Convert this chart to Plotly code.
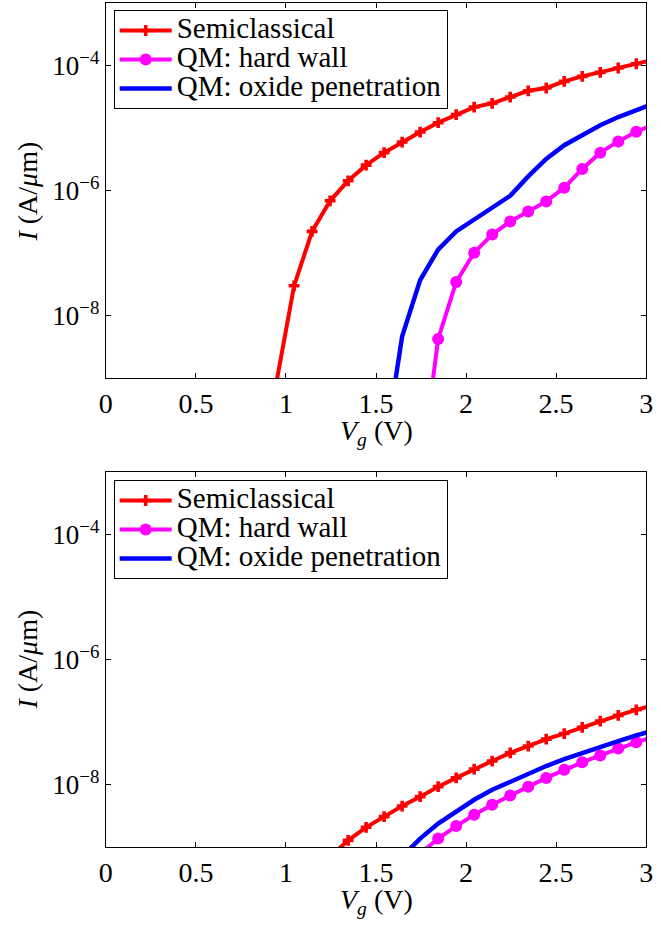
import plotly.graph_objects as go

# ---------------- data (log10 of current in A/um) ----------------
vg_semi_top = [0.945, 1.045, 1.145, 1.245, 1.345, 1.445, 1.545, 1.645, 1.745, 1.845, 1.945,
               2.045, 2.145, 2.245, 2.345, 2.445, 2.545, 2.645, 2.745, 2.845, 2.945, 3.045]
log_i_semi_top = [-9.10, -7.52, -6.65, -6.16, -5.84, -5.59, -5.39, -5.22, -5.06, -4.91, -4.78,
                  -4.66, -4.60, -4.50, -4.40, -4.355, -4.25, -4.17, -4.105, -4.035, -3.967, -3.90]

vg_hw_top = [1.745, 1.845, 1.945, 2.045, 2.145, 2.245, 2.345, 2.445, 2.545, 2.645, 2.745,
             2.845, 2.945, 3.045]
log_i_hw_top = [-10.6, -8.37, -7.46, -6.99, -6.70, -6.49, -6.33, -6.17, -5.95, -5.65, -5.39,
                -5.21, -5.055, -4.93]

vg_ox_top = [1.545, 1.645, 1.745, 1.845, 1.945, 2.045, 2.145, 2.245, 2.345, 2.445, 2.545,
             2.645, 2.745, 2.845, 2.945, 3.045]
log_i_ox_top = [-10.2, -8.33, -7.43, -6.94, -6.65, -6.46, -6.28, -6.08, -5.77, -5.49, -5.27,
                -5.10, -4.95, -4.82, -4.71, -4.60]

vg_semi_bot = [1.245, 1.345, 1.445, 1.545, 1.645, 1.745, 1.845, 1.945, 2.045, 2.145, 2.245,
               2.345, 2.445, 2.545, 2.645, 2.745, 2.845, 2.945, 3.045]
log_i_semi_bot = [-9.15, -8.89, -8.68, -8.51, -8.34, -8.19, -8.03, -7.89, -7.75, -7.62, -7.49,
                  -7.38, -7.27, -7.18, -7.08, -6.98, -6.89, -6.80, -6.72]

vg_hw_bot = [1.745, 1.845, 1.945, 2.045, 2.145, 2.245, 2.345, 2.445, 2.545, 2.645, 2.745,
             2.845, 2.945, 3.045]
log_i_hw_bot = [-9.10, -8.86, -8.66, -8.48, -8.32, -8.17, -8.03, -7.89, -7.76, -7.64, -7.53,
                -7.42, -7.32, -7.23]

vg_ox_bot = [1.645, 1.745, 1.845, 1.945, 2.045, 2.145, 2.245, 2.345, 2.445, 2.545, 2.645,
             2.745, 2.845, 2.945, 3.045]
log_i_ox_bot = [-9.15, -8.86, -8.62, -8.42, -8.24, -8.08, -7.95, -7.82, -7.70, -7.59, -7.49,
                -7.39, -7.30, -7.21, -7.13]

names = ["Semiclassical", "QM: hard wall", "QM: oxide penetration"]
x_ticks = [0, 0.5, 1, 1.5, 2, 2.5, 3]
x_tick_text = ["0", "0.5", "1", "1.5", "2", "2.5", "3"]
y_ticks = [1e-8, 1e-6, 1e-4]
y_tick_text = ["10<sup>\u22128</sup>", "10<sup>\u22126</sup>", "10<sup>\u22124</sup>"]

FONT = "Liberation Serif, Times New Roman, serif"
W, H = 661, 925

def to_i(vals):
    return [10 ** v for v in vals]

def leg_name(s):
    # legend text drawn larger than the compact row spacing of the legend
    return '<span style="font-size:29px">' + s + '</span>'

fig = go.Figure()

panels = [
    ("x", "y", "legend", vg_semi_top, log_i_semi_top, vg_hw_top, log_i_hw_top, vg_ox_top, log_i_ox_top),
    ("x2", "y2", "legend2", vg_semi_bot, log_i_semi_bot, vg_hw_bot, log_i_hw_bot, vg_ox_bot, log_i_ox_bot),
]
for xa, ya, lg, xs, ys, xh, yh, xo, yo in panels:
    fig.add_trace(go.Scatter(x=xs, y=to_i(ys), name=leg_name(names[0]), xaxis=xa, yaxis=ya, legend=lg,
                             mode="lines+markers",
                             line=dict(color="#ff0000", width=4),
                             marker=dict(symbol="cross", size=9, color="#ff0000")))
    fig.add_trace(go.Scatter(x=xh, y=to_i(yh), name=leg_name(names[1]), xaxis=xa, yaxis=ya, legend=lg,
                             mode="lines+markers",
                             line=dict(color="#ff00ff", width=4),
                             marker=dict(symbol="circle", size=12, color="#ff00ff")))
    fig.add_trace(go.Scatter(x=xo, y=to_i(yo), name=leg_name(names[2]), xaxis=xa, yaxis=ya, legend=lg,
                             mode="lines",
                             line=dict(color="#0000ff", width=4.5)))

x_dom = [101 / W, 653 / W]
top_dom = [1 - 378.3 / H, 1 - 3.3 / H]
bot_dom = [1 - 847.3 / H, 1 - 472.3 / H]

xax = dict(range=[0, 3], tickvals=x_ticks, ticktext=x_tick_text, showline=True, linecolor="black",
           linewidth=1, mirror="ticks", ticks="inside", ticklen=5, tickcolor="black", showgrid=False,
           zeroline=False, tickfont=dict(family=FONT, size=28, color="black"), domain=x_dom)
yax = dict(type="log", range=[-9, -3], tickvals=y_ticks, ticktext=y_tick_text, showline=True,
           linecolor="black", linewidth=1, mirror="ticks", ticks="inside", ticklen=5,
           tickcolor="black", showgrid=False, zeroline=False,
           tickfont=dict(family=FONT, size=27, color="black"))

leg = dict(x=109 / W, xanchor="left", bgcolor="white", bordercolor="black", borderwidth=1,
           font=dict(family=FONT, size=20, color="black"), tracegroupgap=0, itemwidth=52)

fig.update_layout(
    width=W, height=H, margin=dict(l=0, r=0, t=0, b=0),
    paper_bgcolor="white", plot_bgcolor="white",
    showlegend=True,
    xaxis=dict(xax, anchor="y"),
    yaxis=dict(yax, domain=top_dom, anchor="x"),
    xaxis2=dict(xax, anchor="y2"),
    yaxis2=dict(yax, domain=bot_dom, anchor="x2"),
    legend=dict(leg, y=1 - 10 / H, yanchor="top"),
    legend2=dict(leg, y=1 - 480 / H, yanchor="top"),
)

ann_font = dict(family=FONT, size=28, color="black")
for yc in [192, 660]:
    fig.add_annotation(text="<i>I</i> (A/<i>\u03bc</i>m)", xref="paper", yref="paper",
                       x=20 / W, y=1 - yc / H, xanchor="center", yanchor="middle",
                       textangle=-90, showarrow=False, font=ann_font)
for yc in [432, 901]:
    fig.add_annotation(text="<i>V<sub>g</sub></i> (V)", xref="paper", yref="paper",
                       x=377 / W, y=1 - yc / H, xanchor="center", yanchor="middle",
                       showarrow=False, font=ann_font)

fig.write_html("out.html", config={"displayModeBar": False},
               post_script="document.body.style.margin='0';document.body.style.overflow='hidden';")
